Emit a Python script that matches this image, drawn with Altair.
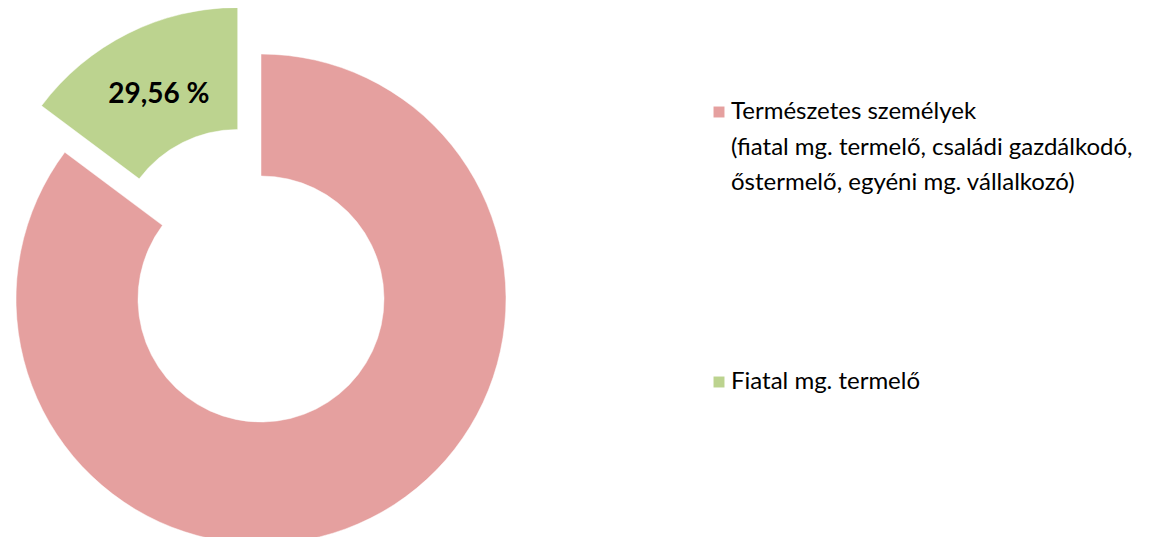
import altair as alt
import pandas as pd

# ---- data ----
categories = [
    "\u00a0Természetes személyek\n(fiatal mg. termelő, családi gazdálkodó,\nőstermelő, egyéni mg. vállalkozó)",
    "Fiatal mg. termelő",
]
values = [85.22, 14.78]
labels = ["", "29,56 %"]
explode = [0, 52]
colors = ["#E5A09F", "#BCD38F"]
order = [0, 1]

df = pd.DataFrame({"cat": categories, "value": values, "label": labels,
                   "explode": explode, "order": order})

# ---- layout constants ----
CX, CY = 253, 291
R_OUT, R_IN = 245, 123
R_LABEL = 176

base = (
    alt.Chart(df)
    .transform_joinaggregate(total="sum(value)")
    .transform_window(cum="sum(value)", sort=[alt.SortField("order")])
    .transform_calculate(
        mid="(datum.cum - datum.value / 2) / datum.total * 2 * PI",
    )
    .transform_calculate(
        px=f"{CX} + datum.explode * sin(datum.mid)",
        py=f"{CY} - datum.explode * cos(datum.mid)",
    )
    .transform_calculate(
        tx=f"datum.px + {R_LABEL} * sin(datum.mid)",
        ty=f"datum.py - {R_LABEL} * cos(datum.mid)",
    )
)

arcs = base.mark_arc(outerRadius=R_OUT, innerRadius=R_IN, stroke="#ffffff",
                     strokeWidth=0.5).encode(
    theta=alt.Theta("value:Q", stack=True),
    order=alt.Order("order:Q"),
    x=alt.X("px:Q", scale=None, axis=None),
    y=alt.Y("py:Q", scale=None, axis=None),
    color=alt.Color(
        "cat:N",
        sort=categories,
        scale=alt.Scale(domain=categories, range=colors),
        legend=alt.Legend(
            title=None,
            orient="none",
            legendX=699,
            legendY=92,
            symbolType="square",
            symbolSize=120,
            symbolStrokeWidth=0,
            labelFont="Lato",
            labelFontSize=24,
            labelOffset=0,
            labelColor="#000000",
            labelLimit=700,
            labelExpr="split(datum.label, '\\n')",
            rowPadding=175,
        ),
    ),
)

text = base.mark_text(font="Lato", fontWeight="bold", fontSize=28,
                      color="#000000").encode(
    x=alt.X("tx:Q", scale=None, axis=None),
    y=alt.Y("ty:Q", scale=None, axis=None),
    text="label:N",
)

chart = (
    alt.layer(arcs, text)
    .properties(width=1146, height=529, autosize="none", padding=0)
    .configure(style={"guide-label": {"lineHeight": 35.5}})
    .configure_view(stroke=None)
)

chart.save("out.html", embed_options={"renderer": "svg", "actions": False})
